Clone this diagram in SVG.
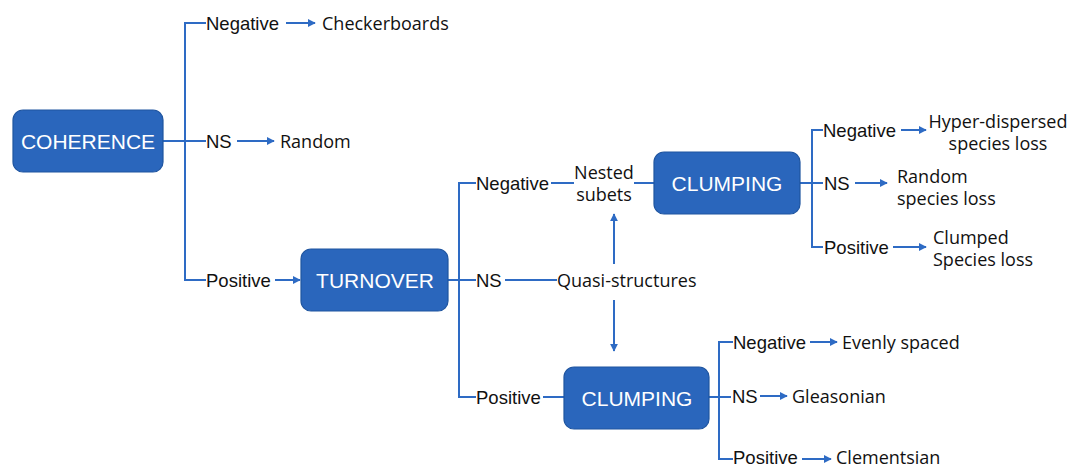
<svg xmlns="http://www.w3.org/2000/svg" width="1069" height="467" viewBox="0 0 1069 467">
<style>
.box{fill:#2A66BC;stroke:#1F55A0;stroke-width:1.2}
.bt{font-family:"Liberation Sans",Arial,sans-serif;font-size:21px;fill:#fff;text-anchor:middle;dominant-baseline:central}
.lb{font-family:"Liberation Sans",Arial,sans-serif;font-size:18.5px;fill:#111;dominant-baseline:central}
.rs{font-family:"Open Sans","Noto Sans",sans-serif;font-size:18px;fill:#111;dominant-baseline:central}
.ln{fill:none;stroke:#2E6BC4;stroke-width:2}
.ar{fill:none;stroke:#2E6BC4;stroke-width:2;marker-end:url(#ah)}
</style>
<defs>
<marker id="ah" viewBox="0 0 10 10" refX="9" refY="5" markerWidth="4" markerHeight="4" orient="auto" markerUnits="strokeWidth">
<path d="M0,0 L10,5 L0,10 z" fill="#2E6BC4"/>
</marker>
</defs>
<rect width="1069" height="467" fill="#fff"/>
<g id="connectors">
<path class="ln" d="M163,141 H206 M206,23 H185 V280 H206"/>
<path class="ar" d="M286,23 H315"/>
<path class="ar" d="M237,141 H274"/>
<path class="ar" d="M275,280 H300"/>
<path class="ln" d="M448,280 H476 M476,183 H459 V397 H476"/>
<path class="ln" d="M551,183 H574 M634,183 H654"/>
<path class="ln" d="M505,280 H557"/>
<path class="ln" d="M543,397 H564"/>
<path class="ar" d="M614,264 V214"/>
<path class="ar" d="M614,300 V351"/>
<path class="ln" d="M800,183 H823 M823,130 H812 V247 H823"/>
<path class="ar" d="M901,130 H926"/>
<path class="ar" d="M855,183 H887"/>
<path class="ar" d="M893,247 H926"/>
<path class="ln" d="M709,397 H731 M733,342 H719 V459 H733"/>
<path class="ar" d="M810,342 H837"/>
<path class="ar" d="M760,396 H787"/>
<path class="ar" d="M802,459 H831"/>
</g>
<g id="coherence"><rect class="box" x="13" y="110" width="150" height="62" rx="10"/><text class="bt" x="88" y="141">COHERENCE</text></g>
<g id="turnover"><rect class="box" x="301" y="249" width="147" height="62" rx="10"/><text class="bt" x="375" y="280">TURNOVER</text></g>
<g id="clumping1"><rect class="box" x="654" y="152" width="146" height="62" rx="10"/><text class="bt" x="727" y="183">CLUMPING</text></g>
<g id="clumping2"><rect class="box" x="564" y="367" width="145" height="62" rx="10"/><text class="bt" x="637" y="398">CLUMPING</text></g>
<g id="labels">
<text class="lb" x="206" y="23">Negative</text>
<text class="rs" x="322" y="23">Checkerboards</text>
<text class="lb" x="206" y="141">NS</text>
<text class="rs" x="280" y="141">Random</text>
<text class="lb" x="206" y="280">Positive</text>
<text class="lb" x="476" y="183">Negative</text>
<text class="rs" x="604" y="172" text-anchor="middle">Nested</text>
<text class="rs" x="604" y="194" text-anchor="middle">subets</text>
<text class="lb" x="476" y="280">NS</text>
<text class="rs" x="557" y="280">Quasi-structures</text>
<text class="lb" x="476" y="397">Positive</text>
<text class="lb" x="823" y="130">Negative</text>
<text class="rs" x="998" y="121" text-anchor="middle">Hyper-dispersed</text>
<text class="rs" x="998" y="143" text-anchor="middle">species loss</text>
<text class="lb" x="824" y="183">NS</text>
<text class="rs" x="897" y="176">Random</text>
<text class="rs" x="897" y="198">species loss</text>
<text class="lb" x="824" y="247">Positive</text>
<text class="rs" x="933" y="237">Clumped</text>
<text class="rs" x="933" y="259">Species loss</text>
<text class="lb" x="733" y="342">Negative</text>
<text class="rs" x="842" y="342">Evenly spaced</text>
<text class="lb" x="732" y="396">NS</text>
<text class="rs" x="792" y="396">Gleasonian</text>
<text class="lb" x="733" y="457">Positive</text>
<text class="rs" x="836" y="457">Clementsian</text>
</g>
</svg>
